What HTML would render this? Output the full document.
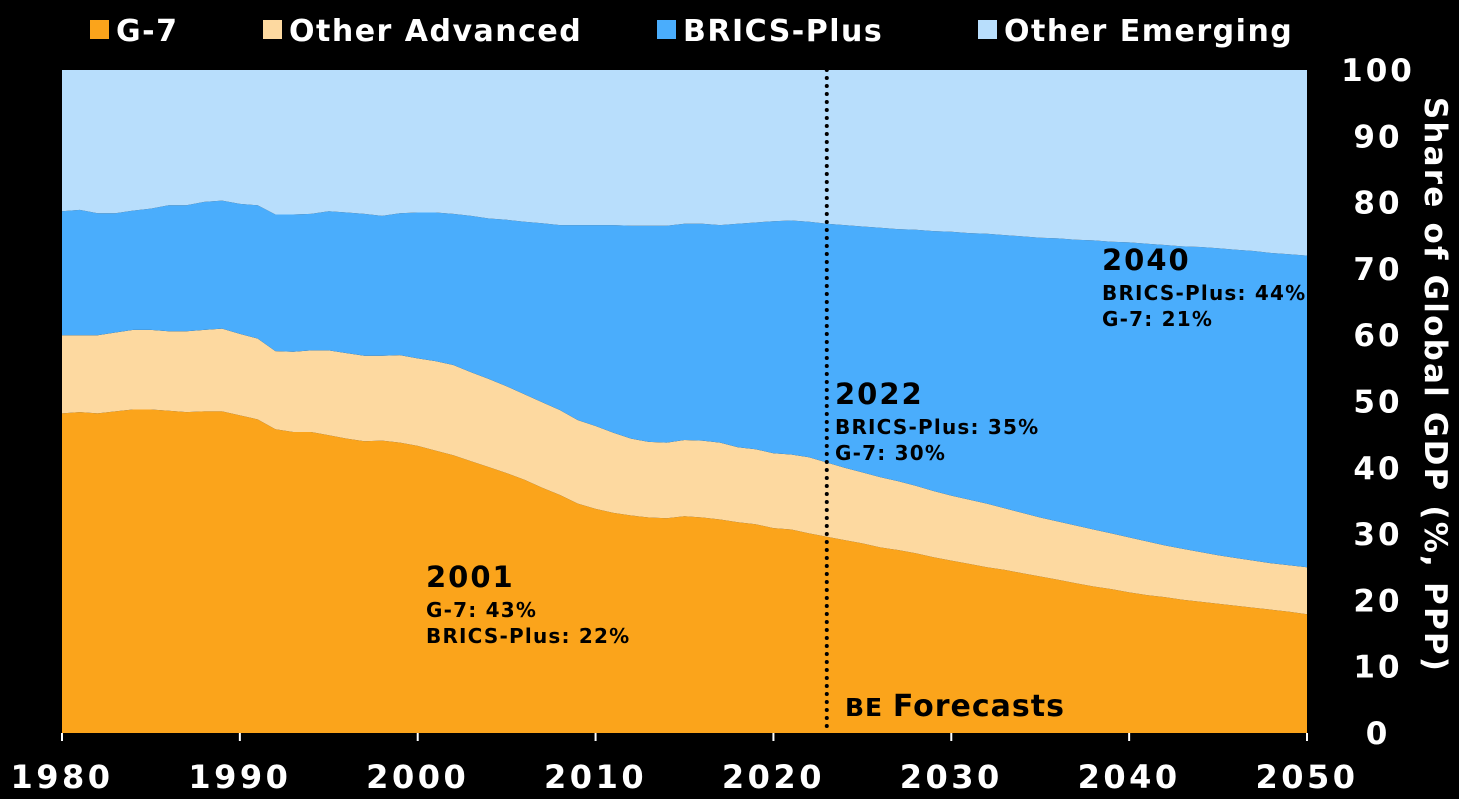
<!DOCTYPE html>
<html><head><meta charset="utf-8"><style>
html,body{margin:0;padding:0;background:#000;}
svg{display:block;font-family:"DejaVu Sans","Liberation Sans",sans-serif;font-weight:bold;}
</style></head><body>
<svg id="chart" width="1459" height="799" viewBox="0 0 1459 799">
<g id="areas"></g>
<g id="axes"></g>
<g id="legend"></g>
<g id="notes"></g>
</svg>
<script>
const years = [];
for (let y = 1980; y <= 2050; y++) years.push(y);
// Cumulative boundaries (% of global GDP, PPP)
const g7Top = [48.2,48.4,48.2,48.5,48.8,48.8,48.6,48.4,48.5,48.5,47.9,47.3,45.8,45.4,45.4,44.9,44.4,44.0,44.1,43.8,43.3,42.6,41.9,41.0,40.1,39.2,38.2,37.0,35.9,34.6,33.8,33.2,32.8,32.5,32.4,32.7,32.5,32.2,31.8,31.5,30.9,30.7,30.1,29.6,29.1,28.6,28.0,27.6,27.1,26.5,26.0,25.5,25.0,24.6,24.1,23.6,23.1,22.6,22.1,21.7,21.2,20.8,20.5,20.1,19.8,19.5,19.2,18.9,18.6,18.3,17.9];
const advancedTop = [60.0,60.0,60.0,60.4,60.8,60.8,60.6,60.6,60.8,61.0,60.2,59.5,57.6,57.5,57.7,57.7,57.3,56.9,56.9,57.0,56.5,56.1,55.5,54.4,53.4,52.3,51.1,49.9,48.7,47.2,46.3,45.3,44.4,43.9,43.8,44.2,44.1,43.8,43.1,42.8,42.2,42.0,41.6,40.8,40.0,39.3,38.6,38.0,37.3,36.5,35.8,35.2,34.6,33.9,33.2,32.5,31.9,31.3,30.7,30.1,29.5,28.9,28.3,27.8,27.3,26.8,26.4,26.0,25.6,25.3,25.0];
const bricsTop = [78.7,78.9,78.4,78.4,78.8,79.1,79.6,79.6,80.1,80.3,79.8,79.6,78.2,78.2,78.3,78.7,78.5,78.3,78.0,78.4,78.5,78.5,78.3,78.0,77.6,77.4,77.1,76.9,76.6,76.6,76.6,76.6,76.5,76.5,76.5,76.8,76.8,76.6,76.8,77.0,77.2,77.3,77.1,76.8,76.6,76.4,76.2,76.0,75.9,75.7,75.6,75.4,75.3,75.1,74.9,74.7,74.6,74.4,74.3,74.1,74.0,73.8,73.6,73.4,73.3,73.1,72.9,72.7,72.4,72.2,72.0];
const yTicks = [0,10,20,30,40,50,60,70,80,90,100];
const xTicks = [1980,1990,2000,2010,2020,2030,2040,2050];
const legendLabels = ["G-7","Other Advanced","BRICS-Plus","Other Emerging"];
const colors = ["#FBA41B","#FDD9A0","#4AADFC","#B8DEFC"];

const X0=62,X1=1307,Y0=733,Y1=70;
const xs = yr => X0 + (yr-1980)/(2050-1980)*(X1-X0);
const ys = v => Y0 - v/100*(Y0-Y1);
const NS="http://www.w3.org/2000/svg";
function mk(tag, attrs, parent, text){const e=document.createElementNS(NS,tag);for(const k in attrs)e.setAttribute(k,attrs[k]);if(text!==undefined)e.textContent=text;parent.appendChild(e);return e;}

const zeros = years.map(()=>0), hundreds = years.map(()=>100);
const bounds = [zeros,g7Top,advancedTop,bricsTop,hundreds];
const names = ["area-g7","area-other-advanced","area-brics-plus","area-other-emerging"];
const areas=document.getElementById('areas');
for(let s=0;s<4;s++){
  let d="";
  years.forEach((yr,i)=>{d+=(i?"L":"M")+xs(yr).toFixed(1)+","+ys(bounds[s+1][i]).toFixed(1);});
  for(let i=years.length-1;i>=0;i--) d+="L"+xs(years[i]).toFixed(1)+","+ys(bounds[s][i]).toFixed(1);
  const p=mk('path',{d:d+"Z",fill:colors[s]},areas);
  
  
}
const axes=document.getElementById('axes');
yTicks.forEach(v=>{
  const t=mk('text',{x:1378,y:ys(v)+11,'text-anchor':'middle',fill:'#fff','font-size':31,'letter-spacing':3},axes,String(v));
  
  
});
xTicks.forEach(v=>{
  const t=mk('text',{x:xs(v),y:788,'text-anchor':'middle',fill:'#fff','font-size':32,'letter-spacing':3.5},axes,String(v));
  
  
  const l=mk('line',{x1:xs(v),x2:xs(v),y1:Y0,y2:Y0+8,stroke:'#fff','stroke-width':2},axes);
  
  
});
const title=mk('text',{transform:'translate(1425,385) rotate(90)','text-anchor':'middle',fill:'#fff','font-size':31,'letter-spacing':2.2},axes,"Share of Global GDP (%, PPP)");


const fx=xs(2023);
const vl=mk('line',{x1:fx,x2:fx,y1:Y1,y2:Y0,stroke:'#000','stroke-width':4,'stroke-dasharray':'0 8','stroke-linecap':'round'},axes);



const legend=document.getElementById('legend');
const lx=[90,263,657,978];
legendLabels.forEach((lab,i)=>{
  const g=mk('g',{},legend);
  
  
  mk('rect',{x:lx[i],y:20,width:19,height:19,fill:colors[i]},g);
  mk('text',{x:lx[i]+26,y:41,fill:'#fff','font-size':30,'letter-spacing':1.5},g,lab);
});

const notes=document.getElementById('notes');
function note(x,y,lines,name){
  const g=mk('g',{},notes);
  
  
  mk('text',{x:x,y:y,fill:'#000','font-size':29,'letter-spacing':2},g,lines[0]);
  mk('text',{x:x,y:y+30,fill:'#000','font-size':20,'letter-spacing':1.2},g,lines[1]);
  mk('text',{x:x,y:y+56,fill:'#000','font-size':20,'letter-spacing':1.2},g,lines[2]);
}
note(426,587,["2001","G-7: 43%","BRICS-Plus: 22%"],"annotation-2001");
note(835,404,["2022","BRICS-Plus: 35%","G-7: 30%"],"annotation-2022");
note(1102,270,["2040","BRICS-Plus: 44%","G-7: 21%"],"annotation-2040");
const fc=mk('text',{x:845,y:716,fill:'#000','font-size':30,'letter-spacing':1},notes);


mk('tspan',{'font-size':25},fc,"BE ");
mk('tspan',{},fc,"Forecasts");
</script>
</body></html>
